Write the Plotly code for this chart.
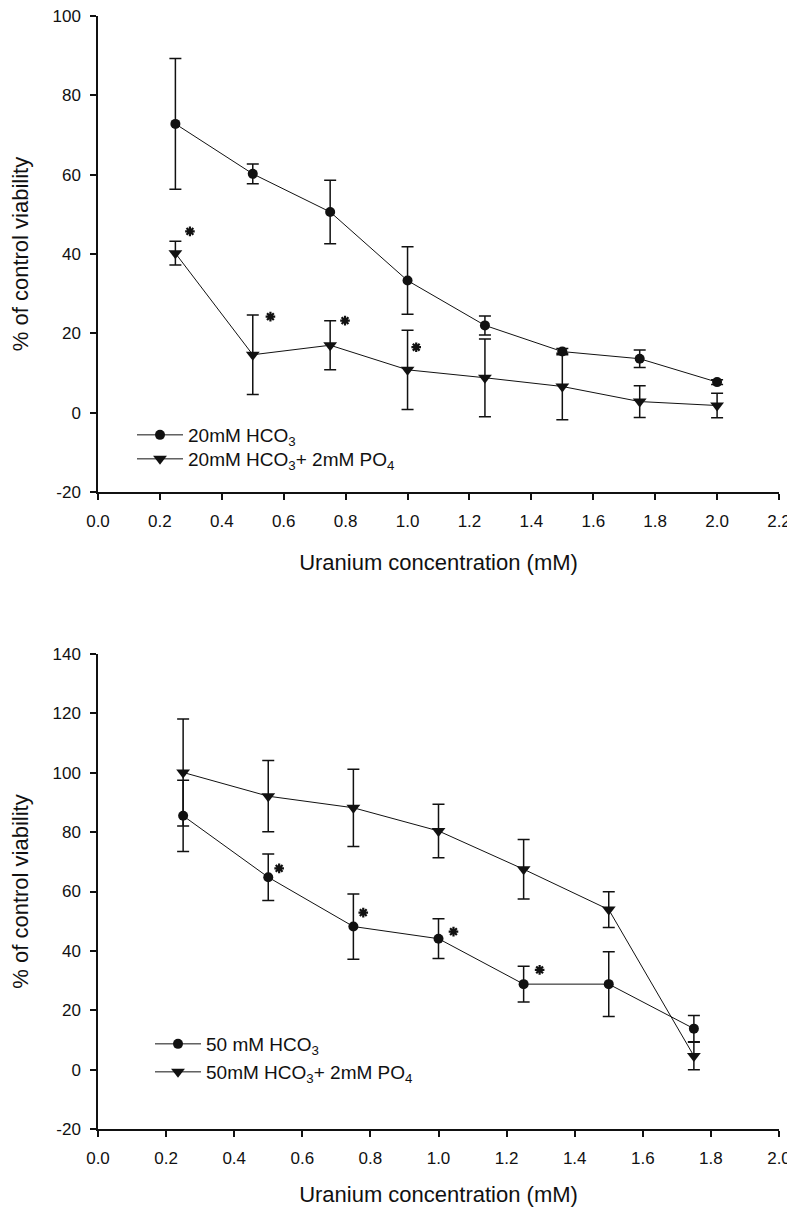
import plotly.graph_objects as go

# ---------------- Data: top panel (20 mM HCO3) ----------------
x_top = [0.25, 0.5, 0.75, 1.0, 1.25, 1.5, 1.75, 2.0]
hco3_20 = [72.8, 60.2, 50.6, 33.3, 22.0, 15.4, 13.6, 7.7]
hco3_20_err = [16.5, 2.5, 8.0, 8.5, 2.4, 0.8, 2.2, 0.6]
po4_20 = [40.2, 14.6, 17.0, 10.8, 8.8, 6.6, 2.8, 1.8]
po4_20_err = [3.0, 10.0, 6.2, 10.0, 9.8, 8.4, 4.0, 3.1]
ast_top_x = [0.297, 0.557, 0.798, 1.028]
ast_top_y = [45.7, 24.2, 23.2, 16.5]

# ---------------- Data: bottom panel (50 mM HCO3) ----------------
x_bot = [0.25, 0.5, 0.75, 1.0, 1.25, 1.5, 1.75]
hco3_50 = [85.5, 64.8, 48.2, 44.1, 28.8, 28.8, 13.8]
hco3_50_err = [12.0, 7.8, 11.0, 6.7, 6.0, 10.9, 4.4]
po4_50 = [100.1, 92.1, 88.2, 80.4, 67.5, 53.9, 4.6]
po4_50_err = [18.0, 12.0, 13.0, 9.0, 10.0, 6.0, 4.6]
ast_bot_x = [0.532, 0.779, 1.044, 1.297]
ast_bot_y = [67.8, 52.9, 46.5, 33.6]

top_x_ticks = [0.0, 0.2, 0.4, 0.6, 0.8, 1.0, 1.2, 1.4, 1.6, 1.8, 2.0, 2.2]
bot_x_ticks = [0.0, 0.2, 0.4, 0.6, 0.8, 1.0, 1.2, 1.4, 1.6, 1.8, 2.0]
top_y_ticks = [-20, 0, 20, 40, 60, 80, 100]
bot_y_ticks = [-20, 0, 20, 40, 60, 80, 100, 120, 140]

names = {
    "h20": "20mM HCO<sub>3</sub>",
    "p20": "20mM HCO<sub>3</sub>+ 2mM PO<sub>4</sub>",
    "h50": "50 mM HCO<sub>3</sub>",
    "p50": "50mM HCO<sub>3</sub>+ 2mM PO<sub>4</sub>",
}
x_title = "Uranium concentration (mM)"
y_title = "% of control viability"

FONT = "Arial, Liberation Sans, sans-serif"
BLACK = "#111111"
TICK_SIZE = 17
TITLE_SIZE = 22
LEGEND_SIZE = 19


def err(vals):
    return dict(type="data", array=vals, visible=True, color=BLACK,
                thickness=1.5, width=6)


fig = go.Figure()


def add_panel(xs, y1, e1, n1, lg1, y2, e2, n2, lg2, ax, ay, ix, iy):
    fig.add_trace(go.Scatter(
        x=xs, y=y1, error_y=err(e1), name=n1,
        mode="lines+markers", line=dict(color=BLACK, width=1),
        marker=dict(symbol="circle", size=10, color=BLACK),
        xaxis=ax, yaxis=ay, legend=lg1))
    fig.add_trace(go.Scatter(
        x=xs, y=y2, error_y=err(e2), name=n2,
        mode="lines+markers", line=dict(color=BLACK, width=1),
        marker=dict(symbol="triangle-down", size=12, color=BLACK),
        xaxis=ax, yaxis=ay, legend=lg2))
    fig.add_trace(go.Scatter(
        x=ix, y=iy, mode="markers", showlegend=False,
        marker=dict(symbol="asterisk-open", size=8, color=BLACK,
                    line=dict(color=BLACK, width=2.2)),
        xaxis=ax, yaxis=ay, hoverinfo="skip"))


add_panel(x_top, hco3_20, hco3_20_err, names["h20"], "legend",
          po4_20, po4_20_err, names["p20"], "legend2",
          "x", "y", ast_top_x, ast_top_y)
add_panel(x_bot, hco3_50, hco3_50_err, names["h50"], "legend3",
          po4_50, po4_50_err, names["p50"], "legend4",
          "x2", "y2", ast_bot_x, ast_bot_y)

axis_common = dict(showline=True, linecolor=BLACK, linewidth=1.5,
                   ticks="outside", ticklen=6, tickwidth=1.5, tickcolor=BLACK,
                   showgrid=False, zeroline=False, automargin=False,
                   ticklabeloverflow="allow",
                   tickfont=dict(family=FONT, size=TICK_SIZE, color=BLACK))

# The page body adds an 8px offset, so the figure is 8px smaller than the window.
H, W = 1199, 787
ML, MR, MT, MB = 90, 16, 8, 78
PH = H - MT - MB
PW = W - ML - MR
top_lo = (H - MB - 484) / PH
bot_hi = (H - MB - 646) / PH


def xax(rng, ticks, anchor):
    return dict(domain=[0, 1], anchor=anchor, range=rng, tickvals=ticks,
                ticktext=[f"{v:.1f}" for v in ticks], ticklabelstandoff=7,
                title=dict(text=x_title, standoff=24,
                           font=dict(family=FONT, size=TITLE_SIZE, color=BLACK)),
                **axis_common)


def yax(dom, rng, ticks, anchor):
    return dict(domain=dom, anchor=anchor, range=rng, tickvals=ticks,
                ticktext=[str(v) for v in ticks], ticklabelstandoff=6,
                title=dict(text=y_title, standoff=28,
                           font=dict(family=FONT, size=TITLE_SIZE, color=BLACK)),
                **axis_common)


leg_common = dict(xanchor="left", yanchor="middle", bgcolor="rgba(0,0,0,0)",
                  font=dict(family=FONT, size=LEGEND_SIZE, color=BLACK),
                  itemwidth=46, tracegroupgap=0)


def leg(xpx, ypx):
    # xpx: page x of legend box left; ypx: page y of row centre
    return dict(x=(xpx - ML) / PW, y=(H - MB - ypx) / PH, **leg_common)


fig.update_layout(
    width=W, height=H,
    margin=dict(l=ML, r=MR, t=MT, b=MB),
    paper_bgcolor="white", plot_bgcolor="white",
    font=dict(family=FONT, color=BLACK),
    xaxis=xax([0, 2.2], top_x_ticks, "y"),
    yaxis=yax([top_lo, 1], [-20, 100], top_y_ticks, "x"),
    xaxis2=xax([0, 2.0], bot_x_ticks, "y2"),
    yaxis2=yax([0, bot_hi], [-20, 140], bot_y_ticks, "x2"),
    legend=leg(124, 427),
    legend2=leg(124, 451),
    legend3=leg(142, 1036),
    legend4=leg(142, 1064),
    showlegend=True,
)

fig.write_html("out.html")
